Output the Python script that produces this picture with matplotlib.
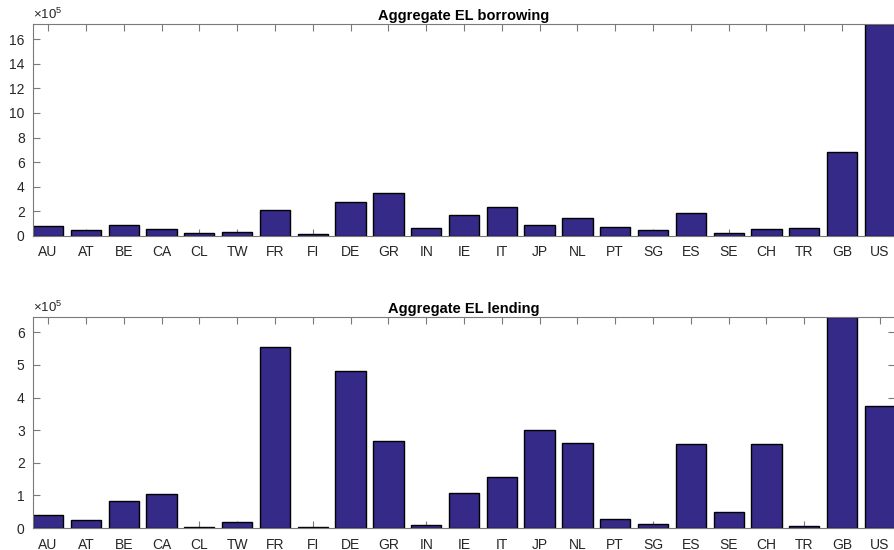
import numpy as np
import matplotlib
matplotlib.use('Agg')
import matplotlib.pyplot as plt

plt.rcParams['font.family'] = ['Liberation Sans', 'DejaVu Sans']
plt.rcParams['mathtext.fontset'] = 'custom'
plt.rcParams['mathtext.rm'] = 'Liberation Sans'

# country codes on the x axis
countries = ['AU', 'AT', 'BE', 'CA', 'CL', 'TW', 'FR', 'FI', 'DE', 'GR', 'IN', 'IE',
             'IT', 'JP', 'NL', 'PT', 'SG', 'ES', 'SE', 'CH', 'TR', 'GB', 'US']

# aggregate EL borrowing
borrowing = [77000, 46000, 87000, 52000, 20000, 28000, 207000, 10000, 272000, 350000,
             63000, 166000, 231000, 85000, 147000, 71000, 44000, 183000, 22000, 52000,
             60000, 682000, 1725000]

# aggregate EL lending
lending = [40000, 24500, 83000, 104000, 3000, 19000, 556000, 3000, 482000, 266000,
           8000, 106000, 155000, 300000, 260000, 29000, 11000, 258000, 48000, 258000,
           5000, 648000, 374000]

scale = 1e5
bar_col = '#352a87'
spine_col = '#7a7a7a'
text_col = '#262626'

fig = plt.figure(figsize=(8.94, 5.5), dpi=100)
ax1 = fig.add_axes([33/894, (550-235.7)/550, (895-33)/894, (235.7-24)/550])
ax2 = fig.add_axes([33/894, (550-528)/550, (895-33)/894, (528-316.7)/550])

x = np.arange(1, len(countries)+1)

def draw(ax, vals, title, ticks):
    v = np.array(vals) / scale
    ax.bar(x, v, width=0.8, color=bar_col, edgecolor='black', linewidth=1.0, zorder=2)
    ax.set_xlim(0.6, len(countries)+0.4)
    ax.set_ylim(0, v.max())
    ax.set_xticks(x)
    ax.set_xticklabels(countries)
    ax.set_yticks(ticks)
    ax.tick_params(direction='in', length=5, width=0.8, top=True, right=True,
                   labelsize=10, colors=spine_col, labelcolor=text_col, pad=6)
    ax.tick_params(axis='x', pad=7)
    for s in ax.spines.values():
        s.set_color(spine_col)
        s.set_linewidth(0.8)
        s.set_zorder(3)
    ax.set_title(title, fontsize=10.5, fontweight='bold', pad=3)
    ax.text(0, 1.01, r'$\times10^{5}$', transform=ax.transAxes, fontsize=9.5,
            color=text_col, ha='left', va='bottom')

draw(ax1, borrowing, 'Aggregate EL borrowing', np.arange(0, 17, 2))
draw(ax2, lending, 'Aggregate EL lending', np.arange(0, 7, 1))

fig.savefig('out.png', dpi=100)
